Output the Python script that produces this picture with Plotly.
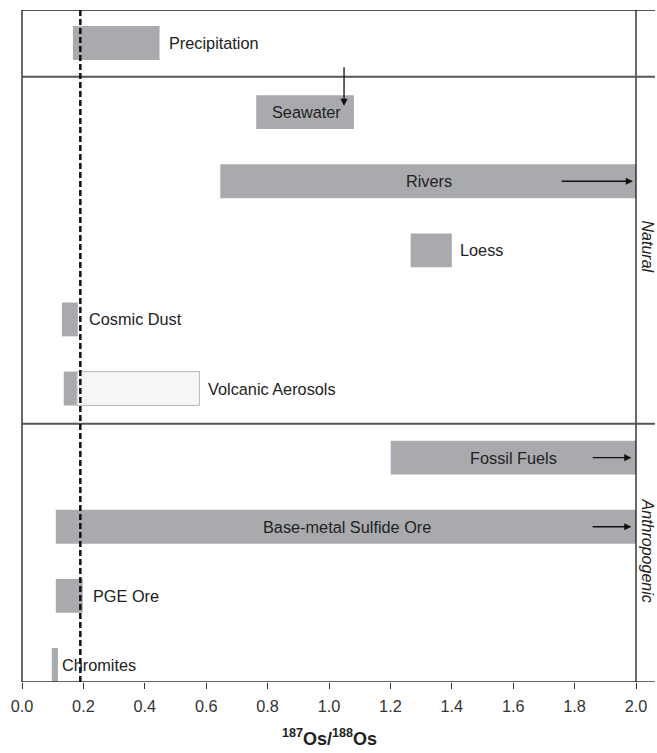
import plotly.graph_objects as go

# Os isotope ranges (187Os/188Os) for natural and anthropogenic sources
sources = ["Precipitation", "Seawater", "Rivers", "Loess", "Cosmic Dust",
           "Volcanic Aerosols", "Fossil Fuels", "Base-metal Sulfide Ore",
           "PGE Ore", "Chromites"]
low = [0.166, 0.763, 0.646, 1.266, 0.130, 0.136, 1.201, 0.110, 0.110, 0.097]
high = [0.448, 1.081, 2.000, 1.400, 0.182, 0.179, 2.000, 2.000, 0.198, 0.117]

# Extended (less certain) range for volcanic aerosols
volcanic_ext_low = [0.179]
volcanic_ext_high = [0.578]

# Present-day upper continental crust / reference line
reference_ratio = 0.19

# Label x-positions and anchors
label_x = [0.471, 0.927, 1.325, 1.419, 0.211, 0.600, 1.601, 1.058, 0.224, 0.123]
label_anchor = ["left", "center", "center", "left", "left", "left",
                "center", "center", "left", "left"]

tick_vals = [0.0, 0.2, 0.4, 0.6, 0.8, 1.0, 1.2, 1.4, 1.6, 1.8, 2.0]
tick_text = ["0.0", "0.2", "0.4", "0.6", "0.8", "1.0", "1.2", "1.4", "1.6", "1.8", "2.0"]

rows = list(range(len(sources)))
BAR = "#a9aaad"
FONT = "Liberation Sans, Arial, sans-serif"
TXT = "#222222"

fig = go.Figure()
fig.add_trace(go.Bar(
    y=rows, x=[h - l for l, h in zip(low, high)], base=low,
    orientation="h", width=0.49, marker=dict(color=BAR, line=dict(width=0)),
    hoverinfo="skip", showlegend=False))
fig.add_trace(go.Bar(
    y=[sources.index("Volcanic Aerosols")],
    x=[h - l for l, h in zip(volcanic_ext_low, volcanic_ext_high)],
    base=volcanic_ext_low, orientation="h", width=0.49,
    marker=dict(color="#f6f6f6", line=dict(color="#b8b8b8", width=1)),
    hoverinfo="skip", showlegend=False))

ann = []
for i, name in enumerate(sources):
    ann.append(dict(x=label_x[i], y=i, text=name, showarrow=False,
                    xanchor=label_anchor[i], yanchor="middle",
                    font=dict(family=FONT, size=16.3, color=TXT)))

# Arrows: seawater trend and open-ended ranges
arrow_style = dict(showarrow=True, arrowhead=2, arrowsize=1.1, arrowwidth=1.3,
                   arrowcolor="#111111", text="", axref="x", ayref="y", xref="x", yref="y")
ann.append(dict(x=1.049, y=0.91, ax=1.049, ay=0.33, **arrow_style))
ann.append(dict(x=1.99, y=2, ax=1.753, ay=2, **arrow_style))
ann.append(dict(x=1.985, y=6, ax=1.854, ay=6, **arrow_style))
ann.append(dict(x=1.985, y=7, ax=1.854, ay=7, **arrow_style))

# Group labels in the right-hand strip
ann.append(dict(x=1.0185, xref="paper", y=2.95, yref="y", text="<i>Natural</i>",
                textangle=90, showarrow=False, xanchor="center", yanchor="middle",
                font=dict(family=FONT, size=16, color=TXT)))
ann.append(dict(x=1.0185, xref="paper", y=7.35, yref="y", text="<i>Anthropogenic</i>",
                textangle=90, showarrow=False, xanchor="center", yanchor="middle",
                font=dict(family=FONT, size=16, color=TXT)))

# Axis title
ann.append(dict(x=0.5, xref="paper", y=-0.082, yref="paper",
                text="<b><sup>187</sup>Os/<sup>188</sup>Os</b>", showarrow=False,
                xanchor="center", yanchor="middle",
                font=dict(family=FONT, size=18, color=TXT)))

Y_TOP, Y_BOT = -0.478, 9.247
XR = 1.0308  # right edge of the group strip in paper units
shapes = [
    # frame
    dict(type="line", xref="paper", yref="y", x0=0, x1=XR, y0=Y_TOP, y1=Y_TOP,
         line=dict(color="#1a1a1a", width=1.3)),
    dict(type="line", xref="paper", yref="y", x0=0, x1=XR, y0=Y_BOT, y1=Y_BOT,
         line=dict(color="#333333", width=1.5)),
    dict(type="line", xref="paper", yref="y", x0=0, x1=0, y0=Y_TOP, y1=Y_BOT,
         line=dict(color="#1a1a1a", width=1.3)),
    dict(type="line", xref="paper", yref="y", x0=1, x1=1, y0=Y_TOP, y1=Y_BOT,
         line=dict(color="#1a1a1a", width=1.3)),
    # group dividers
    dict(type="line", xref="paper", yref="y", x0=0, x1=XR, y0=0.488, y1=0.488,
         line=dict(color="#555555", width=2)),
    dict(type="line", xref="paper", yref="y", x0=0, x1=XR, y0=5.51, y1=5.51,
         line=dict(color="#555555", width=2)),
    # reference ratio
    dict(type="line", xref="x", yref="y", x0=reference_ratio, x1=reference_ratio,
         y0=Y_TOP, y1=Y_BOT, line=dict(color="#111111", width=2.5, dash="6px,3px")),
]

fig.update_layout(
    width=657, height=753, margin=dict(l=22, r=19, t=10, b=71),
    paper_bgcolor="white", plot_bgcolor="white", barmode="overlay",
    annotations=ann, shapes=shapes,
    xaxis=dict(range=[0, 2.0], tickvals=tick_vals, ticktext=tick_text,
               ticks="outside", ticklen=6, tickwidth=1.3, tickcolor="#333333",
               ticklabelstandoff=3,
               showgrid=False, zeroline=False, showline=False,
               tickfont=dict(family=FONT, size=16.3, color="#333333")),
    yaxis=dict(range=[Y_BOT, Y_TOP], showticklabels=False, ticks="",
               showgrid=False, zeroline=False, showline=False),
)

fig.write_html("out.html")
